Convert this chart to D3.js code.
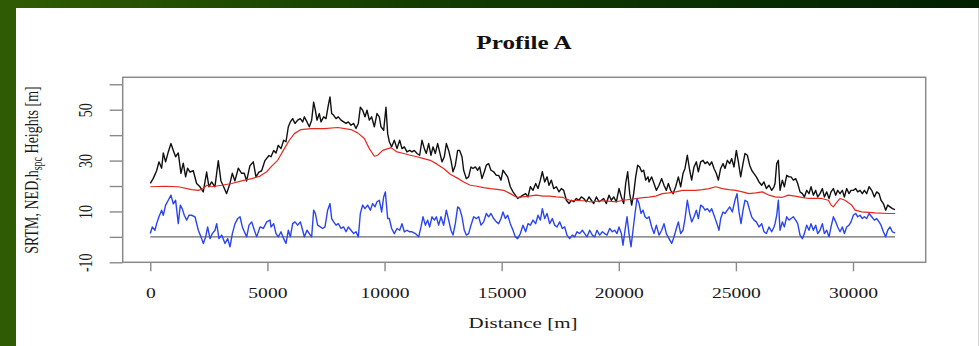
<!DOCTYPE html>
<html>
<head>
<meta charset="utf-8">
<script src="https://cdn.jsdelivr.net/npm/d3@7"></script>
<style>
html,body{margin:0;padding:0;overflow:hidden;background:#fff;}
svg{display:block;}
</style>
</head>
<body>
<svg id="chart" width="979" height="346"></svg>
<script>
// ---------------- DATA ----------------
const chartTitle = "Profile A";
const xTitle = "Distance [m]";
const xTicks = [0, 5000, 10000, 15000, 20000, 25000, 30000];
const yTicks = [-10, 0, 10, 20, 30, 40, 50, 60];
const yTickLabels = [-10, 10, 30, 50];

// SRTM heights [distance m, height m] (black)
const srtm = [
[0,21],[128,23],[270,26],[370,29.5],[484,27],[555,33],[654,29.5],[768,33.4],[882,36.7],[982,34],[1081,31.5],[1195,33],[1309,25],[1408,29],[1508,23.6],[1593,27],[1693,25.5],[1835,26],[1978,21],[2120,19.7],[2262,17.7],[2405,25.5],[2504,19.7],[2618,21.6],[2760,19.7],[2903,30],[3016,22],[3116,20],[3258,17],[3401,21],[3500,25],[3614,22],[3756,27],[3899,25],[4013,25],[4112,22],[4254,28],[4397,29.5],[4511,23.6],[4639,25.5],[4753,26],[4895,30],[5066,32],
[5153,31.5],[5267,34],[5366,33],[5466,36],[5580,34.7],[5694,38],[5793,37.4],[5893,43.3],[5978,45.2],[6078,46.5],[6178,44.6],[6291,45.9],[6405,46.5],[6505,45.2],[6576,47.2],[6690,45.2],[6789,43.3],[6889,45.9],[6974,53],[7046,49.8],[7117,45.9],[7216,48.5],[7288,45.2],[7401,47.2],[7501,46.5],[7601,51.8],[7672,55],[7743,48.5],[7828,47.8],[7928,46.5],[8027,47.2],[8141,45.9],[8255,45.2],[8355,44.6],[8454,45.2],[8568,43.9],[8682,44.6],[8782,42.6],[8881,44.6],[8967,51],[9066,49.8],[9166,47.2],[9251,49.8],[9351,45.9],[9450,47.2],[9564,43.3],[9678,48.5],[9778,47.2],[9849,43.3],[9963,41.9],[10062,51],[10134,40.6],[10205,37.4],[10304,35.4],[10418,38],[10532,34.7],
[10646,38],[10745,34.7],[10845,35.4],[10959,33.4],[11073,34],[11172,33.4],[11272,34],[11386,32.8],[11500,32.1],[11599,38],[11699,34.7],[11784,32.8],[11884,36.7],[11983,32.1],[12069,35.4],[12168,32.8],[12268,36.7],[12353,33.4],[12453,29.5],[12553,31.5],[12638,36.7],[12738,34],[12837,30.1],[12923,25.6],[13022,28.2],[13122,34],[13207,34],[13307,31.5],[13378,26.2],[13492,22.9],[13591,23.6],[13691,27.5],[13776,26.9],[13876,27.5],[13976,26.2],[14061,27.5],[14161,22.9],[14260,25.6],[14346,28.2],[14445,28.8],[14545,26.2],[14659,25.6],[14773,24.2],[14872,24.2],[14972,22.3],[15057,26.2],[15157,24.9],[15256,23.6],[15370,19.7],[15484,17.7],[15584,16.4],[15683,15.1],[15797,15.7],
[15912,16.4],[16026,17],[16125,15.7],[16225,19.7],[16339,18.3],[16453,21],[16552,19],[16652,22.3],[16737,25.6],[16837,21.6],[16937,23.6],[17022,20.3],[17122,22.3],[17221,19],[17335,19.7],[17449,17.7],[17548,19],[17648,18.3],[17762,14.4],[17876,13.1],[17975,14.4],[18075,13.8],[18189,15.1],[18303,14.4],[18402,15.7],[18502,15.1],[18616,13.8],[18730,15.7],[18829,14.4],[18929,13.1],[19043,15.7],[19156,13.8],[19256,14.4],[19356,15.1],[19470,13.1],[19583,16.4],[19683,14.4],[19783,15.7],[19896,13.8],[20010,19],[20110,15.7],[20209,13.1],[20295,21],[20380,25.6],[20466,17],[20551,12.5],[20636,17],[20722,23.6],[20807,28.2],[20893,27.5],[20978,25.6],[21063,26.2],[21149,22.3],[21248,23.6],
[21291,21.6],[21405,23.6],[21504,21],[21604,18.3],[21718,20.3],[21832,22.9],[21931,20.3],[22031,18.3],[22116,21],[22216,18.3],[22316,17],[22429,19.7],[22543,23.6],[22643,19.7],[22742,24.9],[22828,26.9],[22927,32.1],[23027,26.2],[23112,22.3],[23212,27.5],[23312,29.5],[23397,25.6],[23497,29.5],[23596,30.1],[23682,28.8],[23781,29.5],[23881,28.2],[23966,29.5],[24066,26.9],[24165,24.9],[24251,22.3],[24350,26.9],[24450,28.8],[24535,26.9],[24635,30.1],[24735,28.8],[24820,30.8],[24920,27.5],[25019,34],[25105,29.5],[25204,23.6],[25304,28.8],[25389,32.8],[25489,32.1],[25588,28.2],[25674,26.2],[25773,24.9],[25873,23.6],[25987,21.6],[26101,20.3],[26200,21.6],[26300,19],[26414,20.3],[26528,18.3],[26627,19.7],
[26671,21],[26742,28.8],[26813,30.1],[26884,18.3],[26984,22.3],[27069,19.7],[27169,24.2],[27269,23.6],[27354,23.6],[27454,22.3],[27553,22.9],[27639,21],[27738,17.7],[27838,17],[27923,15.7],[28023,18.3],[28122,17],[28208,19.7],[28307,16.4],[28407,18.3],[28492,15.7],[28592,17],[28692,19],[28777,15.7],[28877,17.7],[28976,15.1],[29062,17.7],[29161,19],[29261,16.4],[29346,18.3],[29446,17],[29545,18.3],[29631,15.7],[29730,19],[29830,17],[29915,18.3],[30015,18.3],[30115,19],[30200,17.7],[30300,18.3],[30399,17],[30485,18.3],[30584,17],[30684,19.7],[30798,18.3],[30912,15.7],[31011,17.7],[31111,17],[31196,14.4],[31296,13.1],[31395,10.5],[31481,12.5],[31580,11.8],[31680,11.1],[31794,10.7]
];

// NED heights (red)
const ned = [
[0,19.7],[626,19.9],[1195,19.7],[1765,18.6],[2050,18.3],[2264,19],[2405,20.3],[2618,19.7],[3047,20.3],[3474,21],[3902,22],[4329,22.9],[4685,23.9],[4970,25.6],[5183,27.8],
[5438,30.1],[5722,34.7],[5936,38],[6149,40.6],[6434,42.2],[6861,42.6],[7430,42.6],[7999,43],[8568,42.2],[8853,40.9],[9137,38.7],[9351,34.7],[9564,31.7],[9707,32.1],[9920,34],[10276,35.1],
[10532,33.4],[10817,32.8],[11101,32.1],[11386,31.5],[11670,30.8],[11955,30.1],[12240,28.6],[12524,26.9],[12809,24.6],[13093,23.2],[13378,21.6],[13663,20.3],[13947,19.9],[14232,19.4],[14516,19],[14801,18.7],[15086,18.3],[15370,17],[15655,15.5],
[15912,15.7],[16481,16.4],[16766,16],[17050,16],[17335,15.7],[17620,15.5],[17904,14.4],[18473,14.2],[18758,13.8],[19327,14.2],[19896,13.8],[20181,14.4],[20466,14.7],[21035,15.4],
[21291,15.6],[21576,16],[21860,17],[22145,17.3],[22429,17.7],[22714,18.3],[23283,18.3],[23568,18.6],[23852,19],[24137,19.7],[24422,19],[24706,18.6],[24991,18.3],[25275,17.7],[25560,17],[25845,17.3],[26129,17.7],[26414,16.4],
[26671,15.7],[26956,15.5],[27240,16.4],[27525,16],[27809,15.5],[28094,15.1],[28663,15.1],[28948,14.4],[29062,12.5],[29161,11.8],[29261,13.1],[29446,15.1],[29659,14.4],[29802,13.4],[29944,12.5],[30086,10.5],[30371,9.8],[30940,9.4],[31509,9.2],[31794,9.2]
];

// Height difference h_spc (blue)
const hspc = [
[0,1.3],[85,3.9],[199,2.6],[270,5.2],[370,7.9],[484,10.5],[555,8.5],[654,12.5],[768,14.4],[882,16.4],[982,13],[1081,14.4],[1195,5.2],[1281,12.5],[1366,11],[1452,8.5],[1551,6.6],[1651,8.5],[1765,8.5],[1908,7.9],[2050,2.6],[2164,0],[2264,-2.6],[2364,0],[2449,3.9],[2549,-0.7],[2648,1.3],[2762,2.6],[2834,5.2],[2933,-0.7],[3047,0.7],[3190,-2.6],[3304,-0.7],[3403,-3.9],[3503,1.3],[3617,5.2],[3731,7.2],[3830,7.9],[3930,3.9],[4016,2],[4115,0],[4215,4.6],[4329,5.9],[4443,2.6],[4542,0],[4685,3.9],[4827,3.3],[4970,5.9],[5112,6.6],
[5153,3.9],[5267,5.2],[5366,1.3],[5466,0],[5580,2],[5694,-0.7],[5793,-2.6],[5893,2.6],[5978,0],[6078,5.2],[6178,5.9],[6291,4.6],[6405,5.9],[6505,2.6],[6576,0],[6690,2.6],[6789,1.3],[6889,0],[6974,10.5],[7046,9.2],[7145,4.6],[7259,3.9],[7359,3.3],[7458,3.9],[7572,10.5],[7672,13.1],[7743,7.2],[7828,5.9],[7928,4.6],[8027,5.2],[8141,3.3],[8255,3.9],[8355,2],[8454,3.9],[8568,2.6],[8682,1.3],[8782,2],[8881,0],[8967,9.2],[9066,12.5],[9166,11.1],[9280,12.5],[9394,10.5],[9493,13.1],[9593,11.8],[9678,13.8],[9778,14.4],[9877,9.8],[9963,15.7],[10034,17.7],[10134,7.2],[10205,7.2],[10304,3.3],[10418,1.3],[10532,3.3],
[10646,2.6],[10745,5.2],[10845,2],[10959,2.6],[11073,2],[11172,2],[11315,1.3],[11457,0],[11557,3.9],[11642,7.9],[11742,4.6],[11841,6.6],[11927,3.9],[12026,7.9],[12126,6.6],[12211,7.9],[12311,4.6],[12410,7.9],[12524,4.6],[12638,10.5],[12738,6.6],[12837,2.6],[12923,0.7],[13022,5.2],[13122,11.8],[13207,11.1],[13307,7.9],[13406,2.6],[13492,0.7],[13591,1.3],[13691,4.6],[13805,7.9],[13919,7.2],[14018,7.9],[14118,4.6],[14232,5.9],[14346,9.2],[14445,7.9],[14545,9.2],[14659,7.2],[14773,5.9],[14872,5.2],[14972,7.2],[15057,9.8],[15157,7.2],[15256,8.5],[15370,5.2],[15484,2.6],[15584,0],[15683,-0.7],[15797,1.3],
[15912,4.6],[16026,2],[16125,5.2],[16225,4.6],[16339,6.6],[16453,5.2],[16552,8.5],[16652,6.6],[16737,11.1],[16837,7.2],[16937,9.2],[17050,5.2],[17164,7.2],[17264,4.6],[17363,3.9],[17477,5.9],[17591,3.3],[17691,3.9],[17790,0.7],[17904,-0.7],[18018,0.7],[18118,0],[18217,2],[18331,1.3],[18445,2.6],[18545,1.3],[18644,0],[18758,2.6],[18872,0.7],[18971,0],[19071,2.6],[19185,0.7],[19299,2],[19398,1.3],[19498,0.7],[19612,3.3],[19726,2],[19825,2.6],[19925,1.3],[20010,3.9],[20110,1.3],[20181,-3.3],[20266,2.6],[20352,7.9],[20437,1.3],[20523,-3.9],[20608,2.6],[20693,9.2],[20779,15.1],[20864,13.1],[20949,9.2],[21035,10.5],[21120,7.9],[21206,7.2],
[21291,7.9],[21405,3.9],[21504,1.3],[21604,4.6],[21718,0.7],[21832,2.6],[21931,5.2],[22031,1.3],[22145,-0.7],[22259,-2.6],[22358,0],[22458,3.3],[22543,5.9],[22643,1.3],[22742,2.6],[22828,7.2],[22927,14.4],[23027,9.2],[23112,5.9],[23212,7.9],[23312,10.5],[23397,7.2],[23497,12.5],[23596,11.8],[23682,10.5],[23781,11.1],[23881,9.8],[23966,11.1],[24066,8.5],[24165,5.9],[24279,2.6],[24350,7.2],[24450,9.8],[24535,9.2],[24635,10.5],[24735,11.8],[24849,9.8],[24962,14.4],[25048,17],[25133,9.8],[25218,5.2],[25304,10.5],[25389,14.4],[25489,13.8],[25588,10.5],[25674,7.9],[25773,6.6],[25873,5.9],[25987,3.9],[26101,5.2],[26200,2],[26300,1.3],[26414,3.9],[26528,2],[26627,3.9],
[26671,5.2],[26742,8.5],[26813,14.4],[26884,2.6],[26984,5.9],[27069,3.9],[27169,7.9],[27269,6.6],[27354,7.2],[27454,7.9],[27553,6.6],[27639,5.2],[27738,0.7],[27838,-0.7],[27923,1.3],[28023,4.6],[28122,2.6],[28208,5.2],[28307,2.6],[28407,4.6],[28492,1.3],[28592,2.6],[28692,5.2],[28777,1.3],[28877,2.6],[28976,0],[29062,3.9],[29161,7.9],[29261,5.9],[29346,3.9],[29446,2],[29545,3.9],[29631,1.3],[29730,3.9],[29830,4.6],[29915,5.9],[30015,8.5],[30115,9.2],[30200,7.9],[30300,8.5],[30399,7.2],[30485,7.9],[30584,7.2],[30684,9.2],[30798,7.9],[30912,6.6],[31011,7.2],[31111,5.9],[31196,4.6],[31296,2],[31395,0],[31481,2.6],[31580,3.9],[31680,2],[31794,1.6]
];

// ---------------- DRAW ----------------
const svg = d3.select("#chart");
const W = 979, H = 346;
const serif = "'Liberation Serif','Times New Roman',Times,serif";
const SX = 1.4; // horizontal stretch of the original rendering

const defs = svg.append("defs");
const grad = defs.append("linearGradient").attr("id","bg").attr("x1","0").attr("y1","0").attr("x2","1").attr("y2","0");
grad.append("stop").attr("offset","0").attr("stop-color","#2f5c03");
grad.append("stop").attr("offset","0.45").attr("stop-color","#123c00");
grad.append("stop").attr("offset","1").attr("stop-color","#002000");

svg.append("rect").attr("width",W).attr("height",H).attr("fill","url(#bg)");
svg.append("rect").attr("x",16).attr("y",8).attr("width",W-16).attr("height",H-8).attr("fill","#ffffff");
svg.append("line").attr("x1",978.5).attr("x2",978.5).attr("y1",8).attr("y2",H).attr("stroke","#d4d4d4").attr("stroke-width",1);

const plot = {left:122.7, right:925.7, top:77.3, bottom:262.3};
const x = d3.scaleLinear().domain([-1178, 33103]).range([plot.left, plot.right]);
const y = d3.scaleLinear().domain([-10, 62.75]).range([plot.bottom, plot.top]);

const line = d3.line().x(d => x(d[0])).y(d => y(d[1]));

// zero reference line
const ext = d3.extent(hspc, d => d[0]);
svg.append("line")
  .attr("x1", x(ext[0])).attr("x2", x(ext[1]))
  .attr("y1", y(0)).attr("y2", y(0))
  .attr("stroke", "#6a6a6a").attr("stroke-width", 1.1);

svg.append("path").datum(srtm).attr("d", line)
  .attr("fill","none").attr("stroke","#111").attr("stroke-width",1.4).attr("stroke-linejoin","round");
svg.append("path").datum(ned).attr("d", line)
  .attr("fill","none").attr("stroke","#e8281e").attr("stroke-width",1.2).attr("stroke-linejoin","round");
svg.append("path").datum(hspc).attr("d", line)
  .attr("fill","none").attr("stroke","#2a44f2").attr("stroke-width",1.4).attr("stroke-linejoin","round");

// box
svg.append("rect")
  .attr("x", plot.left).attr("y", plot.top)
  .attr("width", plot.right - plot.left).attr("height", plot.bottom - plot.top)
  .attr("fill","none").attr("stroke","#8a8a8a").attr("stroke-width",1.5);

// x axis
const gx = svg.append("g")
  .attr("transform", `translate(0,${plot.bottom})`)
  .call(d3.axisBottom(x).tickValues(xTicks).tickSize(9).tickSizeOuter(0).tickFormat(d3.format("d")));
gx.attr("font-family", serif).attr("font-size", 14);
gx.select(".domain").remove();
gx.selectAll(".tick line").attr("stroke","#8a8a8a").attr("stroke-width",1.4);
gx.selectAll(".tick text")
  .attr("y", 36).attr("dy", null)
  .attr("transform", `scale(${SX},1)`)
  .attr("fill", "#1a1a1a");

// y axis
const gy = svg.append("g")
  .attr("transform", `translate(${plot.left},0)`)
  .call(d3.axisLeft(y).tickValues(yTicks).tickSize(13).tickSizeOuter(0)
        .tickFormat(d => yTickLabels.includes(d) ? String(d) : ""));
gy.attr("font-family", serif).attr("font-size", 14);
gy.select(".domain").remove();
gy.selectAll(".tick line").attr("stroke","#8a8a8a").attr("stroke-width",1.4);
gy.selectAll(".tick text")
  .attr("x", 0).attr("dy", null)
  .attr("text-anchor", "middle")
  .attr("transform", `translate(-31,0) scale(${SX},1) rotate(-90)`)
  .attr("fill", "#1a1a1a");

// title
svg.append("text")
  .attr("transform", `translate(524,49) scale(${SX},1)`)
  .attr("text-anchor","middle")
  .attr("font-family", serif).attr("font-weight","bold").attr("font-size",18)
  .attr("fill","#111")
  .text(chartTitle);

// x title
svg.append("text")
  .attr("transform", `translate(523,328) scale(${SX},1)`)
  .attr("text-anchor","middle")
  .attr("font-family", serif).attr("font-size",15)
  .attr("fill","#1a1a1a")
  .text(xTitle);

// y title with subscript
const yt = svg.append("text")
  .attr("transform", `translate(38,170) scale(${SX},1) rotate(-90)`)
  .attr("text-anchor","middle")
  .attr("font-family", serif).attr("font-size",14)
  .attr("fill","#1a1a1a");
yt.append("tspan").text("SRTM, NED,h");
yt.append("tspan").attr("dy", 3).attr("font-size", 10).text("spc");
yt.append("tspan").attr("dy", -3).text(" Heights [m]");
</script>
</body>
</html>
